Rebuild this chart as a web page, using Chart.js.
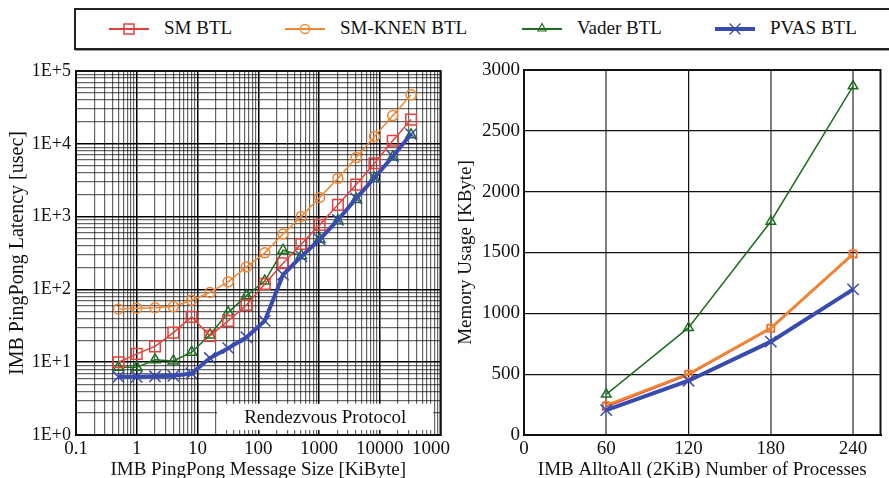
<!DOCTYPE html>
<html>
<head>
<meta charset="utf-8">
<script src="https://cdn.jsdelivr.net/npm/chart.js@4.4.1/dist/chart.umd.min.js"></script>
<style>
  body { margin: 0; width: 889px; height: 478px; overflow: hidden; background: #fff; position: relative; color: #111; }
  #legend { position: absolute; left: 74px; top: 8px; width: 840px; height: 38px; border: 2px solid #222; box-shadow: 1px 1px 0 #999; background: #fff; }
  .item { position: absolute; top: 0; height: 38px; }
  .item svg { position: absolute; top: 9px; left: 0; }
  .item span { position: absolute; top: 7px; white-space: nowrap; font-family: "Liberation Serif", "Times New Roman", serif; font-weight: normal; font-size: 19px; }
  .wrap { position: absolute; top: 0; height: 486px; overflow: hidden; }
</style>
</head>
<body>
<div id="legend"></div>
<div class="wrap" style="left:0;width:450px"><canvas id="latency" width="450" height="486"></canvas></div>
<div class="wrap" style="left:450px;width:440px"><canvas id="memory" width="440" height="486"></canvas></div>
<script>
// left panel: ping-pong latency vs message size (log/log)
const sizes = [0.5, 1, 2, 4, 8, 16, 32, 64, 128, 256, 512, 1024, 2048, 4096, 8192, 16384, 32768];
const smLatency = [10, 13, 16.5, 25.5, 42, 23, 37, 61, 119, 229, 420, 770, 1450, 2750, 5400, 11000, 21500];
const knenLatency = [54, 55, 56, 58, 71, 91, 127, 204, 318, 576, 1007, 1830, 3350, 6460, 12560, 24400, 47000];
const vaderLatency = [8.5, 8.5, 10.8, 10.4, 13.7, 23.7, 48, 82, 130, 345, 290, 490, 880, 1720, 3350, 6600, 13300];
const pvasLatency = [6.3, 6.3, 6.4, 6.5, 7.0, 11.4, 15.6, 22, 37, 159, 284, 485, 900, 1780, 3420, 6700, 13600];
const sizeDecades = [-1, 0, 1, 2, 3, 4, 5];
const latencyDecades = [0, 1, 2, 3, 4, 5];

// right panel: memory usage vs number of processes
const procs = [60, 120, 180, 240];
const smMemory = [235, 499, 877, 1487];
const knenMemory = [245, 502, 880, 1490];
const vaderMemory = [334, 882, 1755, 2868];
const pvasMemory = [205, 446, 767, 1197];
const procTicks = [0, 60, 120, 180, 240];
const memoryTicks = [0, 500, 1000, 1500, 2000, 2500, 3000];

const series = [
  { label: 'SM BTL', color: '#e5413a', style: 'rect' },
  { label: 'SM-KNEN BTL', color: '#f3872f', style: 'circle' },
  { label: 'Vader BTL', color: '#1d6e1d', style: 'triangle' },
  { label: 'PVAS BTL', color: '#3a4bb0', style: 'crossRot' },
];

Chart.defaults.font.family = "'Liberation Serif', serif";
Chart.defaults.color = '#111';

function logTicks(decades) {
  const out = [];
  decades.forEach((d, i) => {
    const base = Math.pow(10, d);
    const steps = i === decades.length - 1 ? [1] : [1, 2, 3, 4, 5, 6, 7, 8, 9];
    steps.forEach(k => out.push({ value: k * base }));
  });
  return out;
}

function isDecade(v) {
  const l = Math.log10(v);
  return Math.abs(l - Math.round(l)) < 1e-9;
}

function pts(xs, ys) {
  return xs.map((x, i) => ({ x: x, y: ys[i] }));
}

// black frame round the plot area
const frame = {
  id: 'frame',
  afterDatasetsDraw(chart) {
    const { ctx, chartArea: a } = chart;
    ctx.save();
    ctx.strokeStyle = '#111';
    ctx.lineWidth = 2;
    ctx.strokeRect(a.left, a.top, a.right - a.left, a.bottom - a.top);
    ctx.restore();
  }
};

// white label box in the lower right of the latency plot
const noteBox = {
  id: 'noteBox',
  beforeDatasetsDraw(chart) {
    const { ctx, scales: { x, y } } = chart;
    const l = x.getPixelForValue(21), r = x.getPixelForValue(76000);
    const t = y.getPixelForValue(2.68), b = y.getPixelForValue(1.17);
    ctx.save();
    ctx.fillStyle = '#fff';
    ctx.fillRect(l, t, r - l, b - t);
    ctx.fillStyle = '#111';
    ctx.font = "19px 'Liberation Serif'";
    ctx.textAlign = 'center';
    ctx.textBaseline = 'middle';
    ctx.fillText('Rendezvous Protocol', (l + r) / 2, (t + b) / 2 + 1);
    ctx.restore();
  }
};

function fixWidth(w) {
  return scale => { scale.width = w; scale.paddingTop = 0; scale.paddingBottom = 0; };
}
function fixHeight(h) {
  return scale => { scale.height = h; scale.paddingLeft = 0; scale.paddingRight = 0; };
}

const latencyValues = [smLatency, knenLatency, vaderLatency, pvasLatency];
const latencyLook = [
  { width: 1.5, radius: 7.5, order: 2 },
  { width: 1.5, radius: 5, order: 1 },
  { width: 1.5, radius: 6, order: 3 },
  { width: 4, radius: 8, order: 0 },
];

new Chart(document.getElementById('latency'), {
  type: 'line',
  data: {
    datasets: series.map((s, i) => ({
      label: s.label,
      data: pts(sizes, latencyValues[i]),
      borderColor: s.color,
      borderWidth: latencyLook[i].width,
      pointStyle: s.style,
      pointRadius: latencyLook[i].radius,
      pointBorderWidth: 1.5,
      pointBorderColor: s.color,
      pointBackgroundColor: 'rgba(0,0,0,0)',
      fill: false,
      tension: 0,
      order: latencyLook[i].order,
    })),
  },
  options: {
    responsive: false,
    animation: false,
    layout: { padding: { top: 71, right: 8, left: 0, bottom: 0 } },
    plugins: { legend: { display: false }, tooltip: { enabled: false } },
    scales: {
      x: {
        type: 'logarithmic',
        min: 0.1,
        max: 100000,
        afterBuildTicks: scale => { scale.ticks = logTicks(sizeDecades); },
        afterFit: fixHeight(51),
        ticks: {
          autoSkip: false,
          maxRotation: 0,
          padding: 3,
          font: { size: 19 },
          callback: v => isDecade(v) ? String(Number(v.toPrecision(1))) : '',
        },
        grid: {
          drawTicks: false,
          color: ctx => ctx.tick && isDecade(ctx.tick.value) ? '#000' : 'rgba(0,0,0,0.6)',
          lineWidth: ctx => ctx.tick && isDecade(ctx.tick.value) ? 1.5 : 1.2,
        },
        border: { color: '#111', width: 2 },
        title: { display: true, text: 'IMB PingPong Message Size [KiByte]', font: { size: 19 }, padding: { top: 0, bottom: 5 } },
      },
      y: {
        type: 'logarithmic',
        min: 1,
        max: 100000,
        afterBuildTicks: scale => { scale.ticks = logTicks(latencyDecades); },
        afterFit: fixWidth(76),
        ticks: {
          autoSkip: false,
          padding: 5,
          font: { size: 18 },
          callback: v => isDecade(v) ? '1E+' + Math.round(Math.log10(v)) : '',
        },
        grid: {
          drawTicks: false,
          color: ctx => ctx.tick && isDecade(ctx.tick.value) ? '#000' : 'rgba(0,0,0,0.6)',
          lineWidth: ctx => ctx.tick && isDecade(ctx.tick.value) ? 1.5 : 1.2,
        },
        border: { color: '#111', width: 2 },
        title: { display: true, text: 'IMB PingPong Latency [usec]', font: { size: 20 }, padding: { top: 6, bottom: 0 } },
      },
    },
  },
  plugins: [noteBox, frame],
});

const memoryValues = [smMemory, knenMemory, vaderMemory, pvasMemory];
const memoryLook = [
  { width: 2.5, radius: 5, order: 2 },
  { width: 2.5, radius: 4, order: 1 },
  { width: 1.5, radius: 5.5, order: 3 },
  { width: 4, radius: 8, order: 0 },
];

new Chart(document.getElementById('memory'), {
  type: 'line',
  data: {
    datasets: series.map((s, i) => ({
      label: s.label,
      data: pts(procs, memoryValues[i]),
      borderColor: s.color,
      borderWidth: memoryLook[i].width,
      pointStyle: s.style,
      pointRadius: memoryLook[i].radius,
      pointBorderWidth: 1.5,
      pointBorderColor: s.color,
      pointBackgroundColor: 'rgba(0,0,0,0)',
      fill: false,
      tension: 0,
      order: memoryLook[i].order,
    })),
  },
  options: {
    responsive: false,
    animation: false,
    layout: { padding: { top: 70, right: 0, left: 0, bottom: 0 } },
    plugins: { legend: { display: false }, tooltip: { enabled: false } },
    scales: {
      x: {
        type: 'linear',
        min: 0,
        max: 260,
        afterBuildTicks: scale => { scale.ticks = procTicks.map(v => ({ value: v })); },
        afterFit: fixHeight(51),
        ticks: { autoSkip: false, maxRotation: 0, padding: 3, font: { size: 19 }, callback: v => String(v) },
        grid: {
          drawTicks: false,
          color: ctx => ctx.tick && ctx.tick.value === 120 ? '#111' : 'rgba(0,0,0,0.5)',
          lineWidth: ctx => ctx.tick && ctx.tick.value === 120 ? 1.2 : 2,
        },
        border: { color: '#111', width: 2 },
        title: { display: true, text: 'IMB AlltoAll (2KiB) Number of Processes', font: { size: 19 }, padding: { top: 0, bottom: 5 } },
      },
      y: {
        min: 0,
        max: 3000,
        afterBuildTicks: scale => { scale.ticks = memoryTicks.map(v => ({ value: v })); },
        afterFit: fixWidth(74),
        ticks: { autoSkip: false, padding: 4, font: { size: 19 }, callback: v => String(v) },
        grid: { drawTicks: false, color: '#111', lineWidth: 1.2 },
        border: { color: '#111', width: 2 },
        title: { display: true, text: 'Memory Usage [KByte]', font: { size: 19 }, padding: { top: 5, bottom: 0 } },
      },
    },
  },
  plugins: [frame],
});

// shared legend across the top, drawn as html
const legendPos = [
  { line: 33, text: 88 },
  { line: 209, text: 264 },
  { line: 446, text: 501 },
  { line: 639, text: 694 },
];

function markerSvg(s, thick) {
  const c = s.color;
  let mark = '';
  if (s.style === 'rect') mark = `<rect x="15" y="5" width="10" height="10" fill="none" stroke="${c}" stroke-width="1.5"/>`;
  if (s.style === 'circle') mark = `<circle cx="20" cy="10" r="4.5" fill="none" stroke="${c}" stroke-width="1.3"/>`;
  if (s.style === 'triangle') mark = `<polygon points="20,4.5 24,12 16,12" fill="none" stroke="${c}" stroke-width="1.2"/>`;
  if (s.style === 'crossRot') mark = `<path d="M14.5 4.5 L25.5 15.5 M25.5 4.5 L14.5 15.5" stroke="${c}" stroke-width="1.3"/>`;
  return `<svg width="40" height="20"><line x1="0" y1="10" x2="40" y2="10" stroke="${c}" stroke-width="${thick}"/>${mark}</svg>`;
}

const legend = document.getElementById('legend');
series.forEach((s, i) => {
  const item = document.createElement('div');
  item.className = 'item';
  item.style.left = legendPos[i].line + 'px';
  item.innerHTML = markerSvg(s, i === 3 ? 4 : 2) + `<span style="left:${legendPos[i].text - legendPos[i].line}px">${s.label}</span>`;
  legend.appendChild(item);
});
</script>
</body>
</html>
